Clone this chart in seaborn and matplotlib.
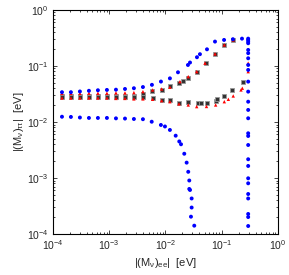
import pandas as pd
import matplotlib
matplotlib.use("Agg")
import matplotlib.pyplot as plt
import seaborn as sns

# |(M_nu)_ee| vs |(M_nu)_tautau| (eV)
blue_upper_x = [1.45e-4, 2.09e-4, 3.02e-4, 4.37e-4, 6.31e-4, 9.12e-4, 1.32e-3, 1.91e-3,
                2.75e-3, 3.98e-3, 5.75e-3, 8.32e-3, 1.20e-2, 1.67e-2, 2.51e-2, 2.73e-2,
                3.63e-2, 4.10e-2, 5.47e-2, 7.59e-2, 0.110, 0.158, 0.229]
blue_upper_y = [0.034, 0.034, 0.035, 0.036, 0.0368, 0.0373, 0.0377, 0.0388,
                0.040, 0.042, 0.046, 0.0526, 0.060, 0.077, 0.104, 0.115,
                0.143, 0.162, 0.198, 0.272, 0.291, 0.300, 0.307]

blue_lower_x = [1.45e-4, 2.09e-4, 3.02e-4, 4.37e-4, 6.31e-4, 9.12e-4, 1.32e-3, 1.91e-3,
                2.75e-3, 3.98e-3, 5.70e-3, 8.30e-3, 9.80e-3, 1.20e-2, 1.52e-2, 1.76e-2,
                1.89e-2, 2.16e-2, 2.38e-2, 2.54e-2, 2.65e-2, 2.65e-2, 2.73e-2, 2.92e-2,
                2.92e-2, 2.84e-2, 3.25e-2]
blue_lower_y = [0.0124, 0.0123, 0.0120, 0.0118, 0.0118, 0.0118, 0.0116, 0.0115,
                0.0113, 0.0112, 0.0101, 0.00884, 0.00831, 0.00720, 0.00569, 0.00449,
                0.00400, 0.00271, 0.00188, 0.00129, 9.02e-4, 6.37e-4, 6.11e-4, 4.31e-4,
                2.97e-4, 2.04e-4, 1.41e-4]

blue_col_x = 0.295
blue_col_y = [0.307, 0.291, 0.272, 0.254, 0.193, 0.169, 0.137, 0.104, 0.0849, 0.0525,
              0.0348, 0.0230, 0.0164, 0.01164, 0.00628, 0.00562, 0.00388, 0.00216,
              0.00164, 9.88e-4, 8.04e-4, 5.18e-4, 4.31e-4, 2.28e-4, 2.01e-4, 1.39e-4]

red_upper_x = [1.45e-4, 2.09e-4, 3.02e-4, 4.37e-4, 6.31e-4, 9.12e-4, 1.32e-3, 1.91e-3,
               2.75e-3, 3.98e-3, 5.91e-3, 8.55e-3, 1.20e-2, 1.81e-2, 2.54e-2, 3.59e-2,
               5.04e-2, 7.59e-2, 0.111, 0.160]
red_upper_y = [0.0323, 0.0323, 0.0323, 0.0326, 0.0326, 0.0326, 0.0330, 0.0330,
               0.0334, 0.0348, 0.0373, 0.0388, 0.0417, 0.0525, 0.0644, 0.0791,
               0.112, 0.164, 0.237, 0.291]

red_lower_x = [1.45e-4, 2.09e-4, 3.02e-4, 4.37e-4, 6.31e-4, 9.12e-4, 1.32e-3, 1.91e-3,
               2.75e-3, 3.98e-3, 5.91e-3, 8.55e-3, 1.20e-2, 1.74e-2, 2.54e-2, 3.59e-2,
               5.36e-2, 7.80e-2, 0.111, 0.131, 0.160, 0.220, 0.232]
red_lower_y = [0.0268, 0.0268, 0.0268, 0.0268, 0.0268, 0.0268, 0.0263, 0.0263,
               0.0258, 0.0258, 0.0254, 0.0240, 0.0230, 0.0210, 0.0201, 0.0188,
               0.0189, 0.0201, 0.0230, 0.0254, 0.0291, 0.0373, 0.0400]

red_col_x = 0.295
red_col_y = [0.307, 0.272, 0.112, 0.079]

gray_upper_x = [1.45e-4, 2.09e-4, 3.02e-4, 4.37e-4, 6.31e-4, 9.12e-4, 1.32e-3, 1.91e-3,
                2.75e-3, 3.98e-3, 5.75e-3, 8.55e-3, 1.20e-2, 1.76e-2, 2.07e-2, 2.54e-2,
                3.59e-2, 5.25e-2, 7.59e-2, 0.111, 0.160]
gray_upper_y = [0.0292, 0.0292, 0.0292, 0.0292, 0.0292, 0.0292, 0.0292, 0.0292,
                0.0292, 0.0310, 0.0358, 0.0366, 0.0439, 0.0494, 0.0533, 0.0605,
                0.0791, 0.112, 0.160, 0.237, 0.291]

gray_lower_x = [1.45e-4, 2.09e-4, 3.02e-4, 4.37e-4, 6.31e-4, 9.12e-4, 1.32e-3, 1.91e-3,
                2.75e-3, 3.98e-3, 5.91e-3, 8.55e-3, 1.20e-2, 1.74e-2, 2.54e-2, 3.83e-2,
                4.22e-2, 5.40e-2, 7.80e-2, 8.33e-2, 0.111, 0.150, 0.235]
gray_lower_y = [0.0279, 0.0279, 0.0279, 0.0279, 0.0279, 0.0279, 0.0279, 0.0279,
                0.0277, 0.0277, 0.0264, 0.0247, 0.0242, 0.0222, 0.0225, 0.0216,
                0.0216, 0.0221, 0.0240, 0.0254, 0.0291, 0.0373, 0.0525]


def to_frame(xs, ys, name):
    if not isinstance(xs, list):
        xs = [xs] * len(ys)
    return pd.DataFrame({"x": xs, "y": ys, "series": name})


gray = pd.concat([to_frame(gray_upper_x, gray_upper_y, "gray"),
                  to_frame(gray_lower_x, gray_lower_y, "gray")])
red = pd.concat([to_frame(red_upper_x, red_upper_y, "red"),
                 to_frame(red_lower_x, red_lower_y, "red"),
                 to_frame(red_col_x, red_col_y, "red")])
blue = pd.concat([to_frame(blue_upper_x, blue_upper_y, "blue"),
                  to_frame(blue_lower_x, blue_lower_y, "blue"),
                  to_frame(blue_col_x, blue_col_y, "blue")])

sns.set_style("ticks")
plt.rcParams["font.family"] = ["Liberation Sans", "DejaVu Sans"]
plt.rcParams["mathtext.fontset"] = "custom"
plt.rcParams["mathtext.rm"] = "Liberation Sans"
plt.rcParams["mathtext.it"] = "Liberation Sans"

fig = plt.figure(figsize=(2.89, 2.75), dpi=100)
ax = fig.add_axes([0.183, 0.149, 0.779, 0.815])

sns.scatterplot(data=gray, x="x", y="y", marker="s", s=9, color="#333333",
                edgecolor="#999999", linewidth=0.6, ax=ax, zorder=2)
sns.scatterplot(data=red, x="x", y="y", marker="^", s=6, color="#ff0000",
                edgecolor="none", linewidth=0, ax=ax, zorder=3)
sns.scatterplot(data=blue, x="x", y="y", marker="o", s=8, color="#0000ff",
                edgecolor="none", linewidth=0, ax=ax, zorder=4)

ax.set_xscale("log")
ax.set_yscale("log")
ax.set_xlim(1e-4, 1)
ax.set_ylim(1e-4, 1)
ax.tick_params(which="both", direction="in", top=True, right=True,
               width=0.6, labelsize=7.5)
ax.tick_params(which="major", length=3, pad=3)
ax.tick_params(which="minor", length=1.5)
for sp in ax.spines.values():
    sp.set_linewidth(0.8)
    sp.set_color("black")

ax.set_xlabel(r"$|(M_\nu)_{ee}|$  [eV]", fontsize=8, labelpad=3)
ax.set_ylabel(r"$|(M_\nu)_{\tau\tau}|$  [eV]", fontsize=8, labelpad=1)

plt.savefig("out.png", dpi=100)
plt.close()
